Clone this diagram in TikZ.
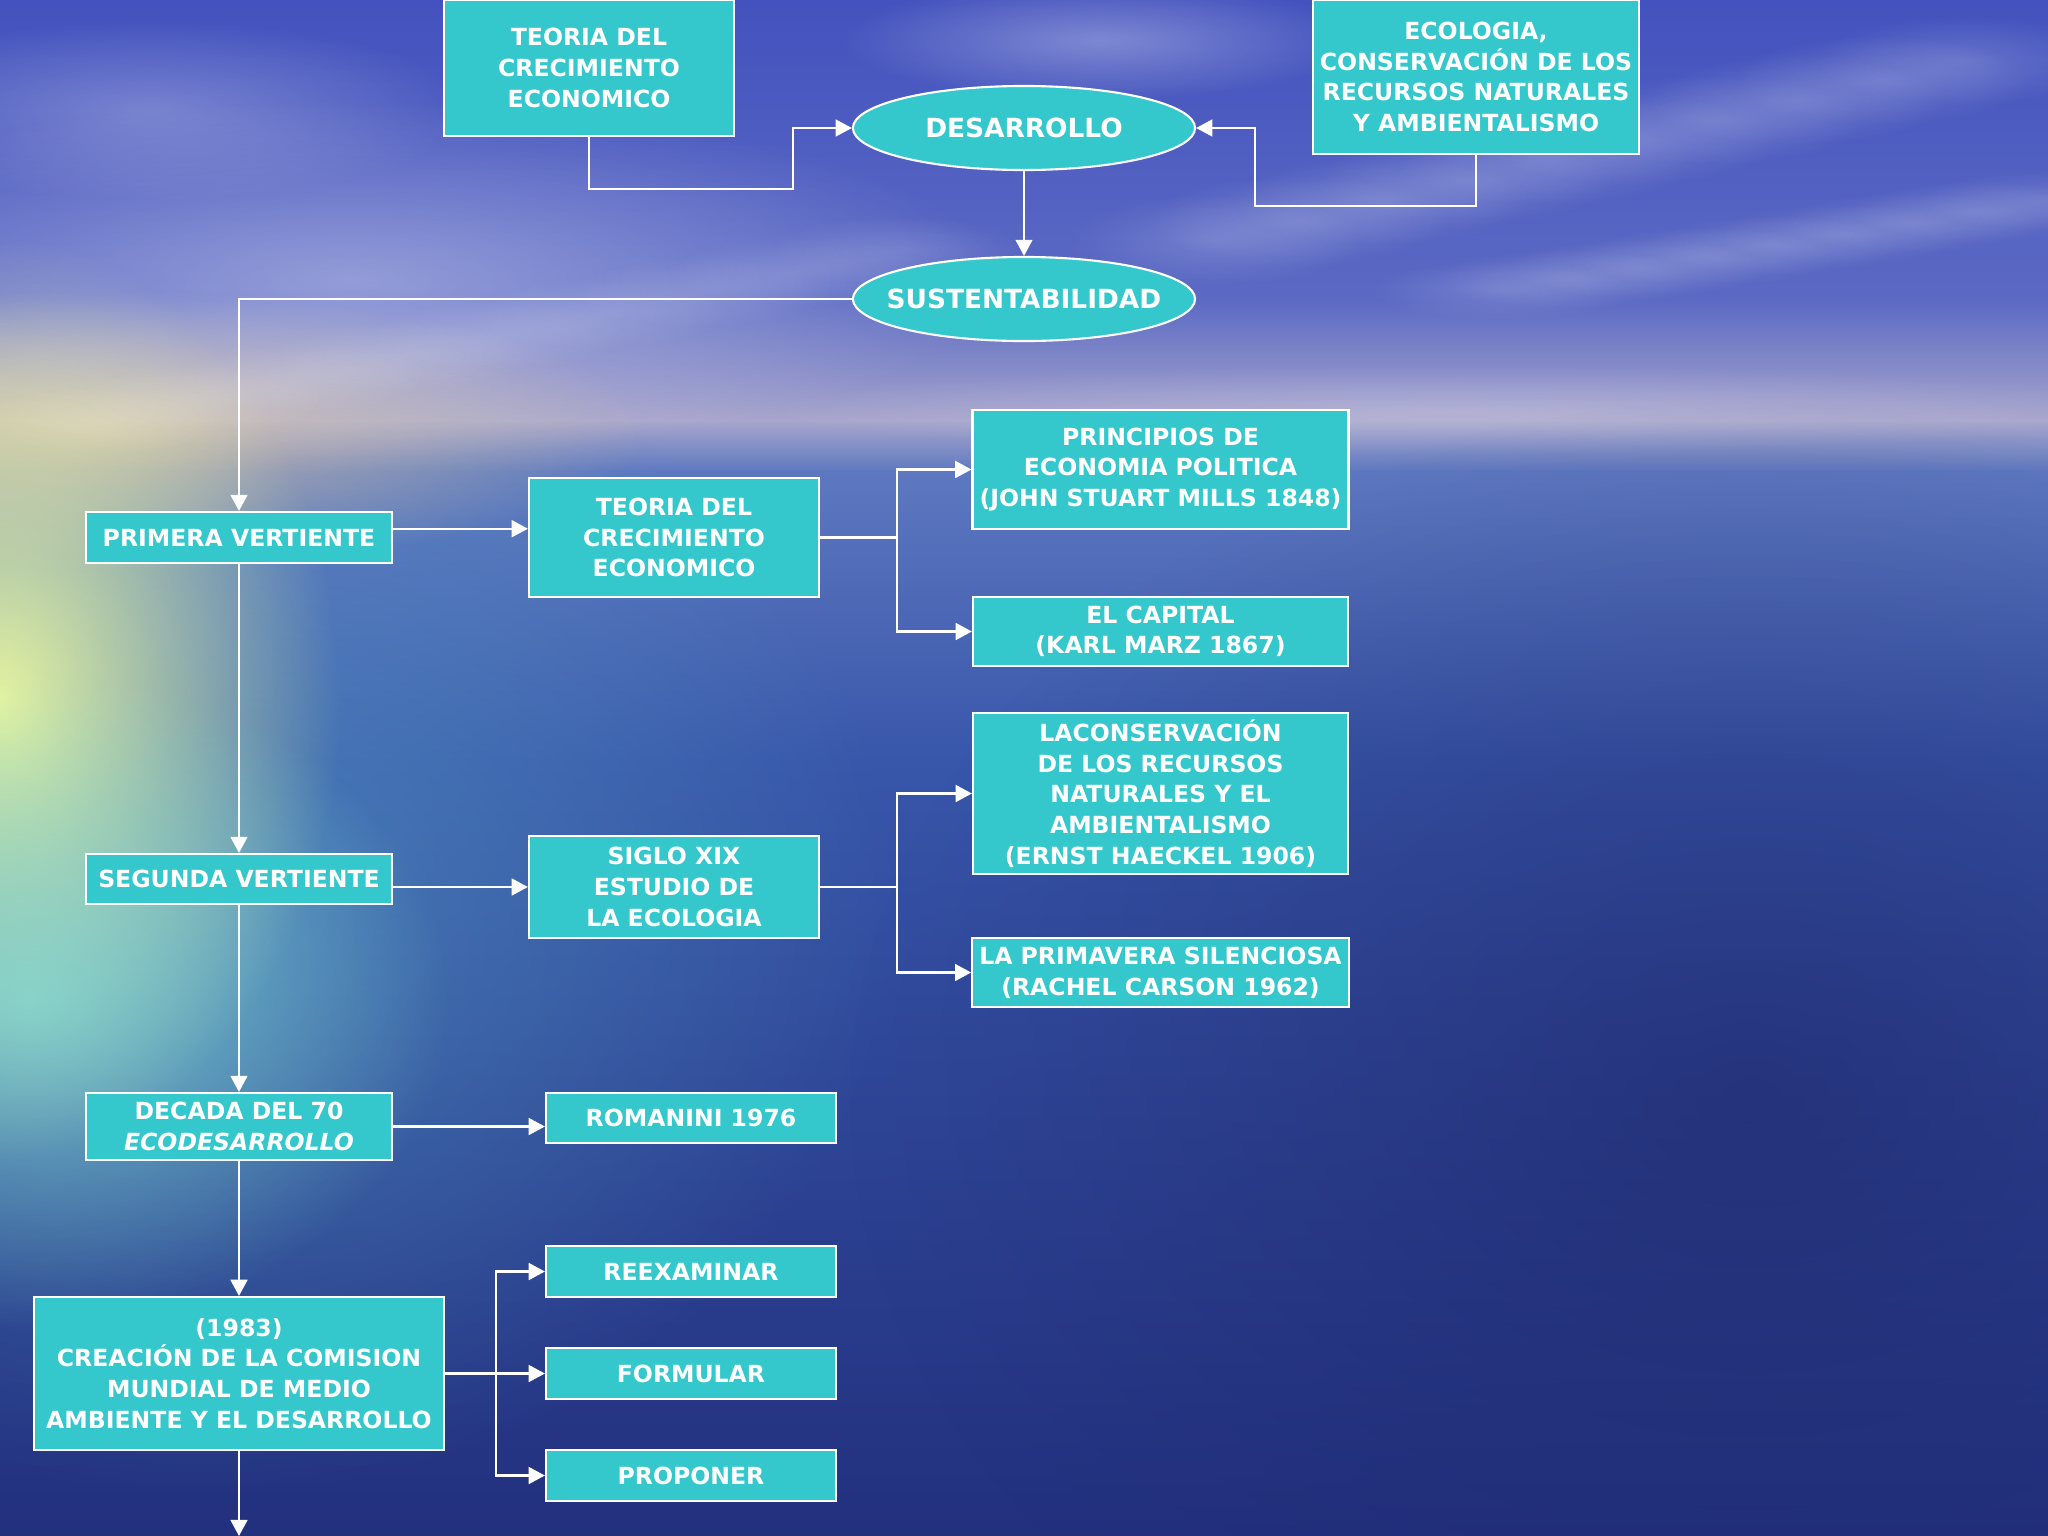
\documentclass[tikz,border=0pt]{standalone}
\usepackage{fontspec}
\setmainfont{DejaVu Sans}[ItalicFont={DejaVu Sans Oblique},BoldFont={DejaVu Sans Bold},BoldItalicFont={DejaVu Sans Bold Oblique}]
\usepackage{tikz}
\usepackage{xcolor}
\usetikzlibrary{arrows.meta,positioning,calc,shapes.geometric,fadings}
\definecolor{turq}{HTML}{34C8CC}
\definecolor{skytop}{HTML}{4352BE}
\definecolor{skylow}{HTML}{5C6AC4}
\definecolor{haze}{HTML}{A8A6CC}
\definecolor{seatop}{HTML}{5E78C0}
\definecolor{seamid}{HTML}{3856AA}
\definecolor{seadeep}{HTML}{22307E}
\definecolor{dusk}{HTML}{D8C0A8}
\definecolor{sunglow}{HTML}{E6F4A0}
\definecolor{foam}{HTML}{8FEBD8}
\definecolor{wash}{HTML}{5AA8C8}
\definecolor{night}{HTML}{1E2466}
\tikzfading[name=soft, inner color=transparent!0, outer color=transparent!100]
\tikzset{
  box/.style={draw=white, fill=turq, line width=0.6pt, align=center, text=white,
              inner sep=2pt, font=\fontsize{6.7}{8.7}\selectfont\bfseries},
  oval/.style={ellipse, draw=white, fill=turq, line width=0.6pt, text=white,
               inner xsep=-5pt, inner ysep=1pt, font=\fontsize{7.5}{9}\selectfont\bfseries},
  arrow/.style={-{Triangle[length=4.6pt,width=4.8pt]}, line width=0.6pt, draw=white},
  link/.style={line width=0.6pt, draw=white},
  cloud/.style={white, path fading=soft}
}

\begin{document}
\begin{tikzpicture}[x=0.01cm,y=-0.01cm]
    \useasboundingbox (0,0) rectangle (2048,1536);
    % Background: sky, horizon and sea
    \begin{scope}
      \clip (0,0) rectangle (2048,1536);
      \shade[top color=skytop, bottom color=skylow] (0,0) rectangle (2048,302);
      \shade[top color=skylow, bottom color=haze] (0,300) rectangle (2048,422);
      \shade[top color=haze, bottom color=seatop] (0,420) rectangle (2048,472);
      \shade[top color=seatop, bottom color=seamid] (0,470) rectangle (2048,762);
      \shade[top color=seamid, bottom color=seadeep] (0,760) rectangle (2048,1536);
      \fill[night, path fading=soft, opacity=.55] (1750,1100) ellipse (900 and 700);
      \fill[wash, path fading=soft, opacity=.5] (200,900) ellipse (700 and 600);
      \fill[dusk, path fading=soft, opacity=.8] (100,430) ellipse (550 and 140);
      \fill[sunglow, path fading=soft] (0,700) ellipse (340 and 460);
      \fill[foam, path fading=soft, opacity=.7] (30,1000) ellipse (420 and 330);
      % clouds
      \fill[cloud, opacity=.35] (350,280) ellipse (650 and 180);
      \fill[cloud, opacity=.25] (150,110) ellipse (320 and 90);
      \fill[cloud, opacity=.3] (1100,40) ellipse (260 and 60);
      \foreach \p in {0,0.1,...,1}
        \fill[cloud, opacity=.16] ($(1214,240)!\p!(2048,40)$) ellipse (150 and 45);
      \foreach \p in {0,0.125,...,1}
        \fill[cloud, opacity=.14] ($(1500,290)!\p!(2048,200)$) ellipse (130 and 30);
      \foreach \p in {0,0.125,...,1}
        \fill[cloud, opacity=.14] ($(100,420)!\p!(900,250)$) ellipse (130 and 35);
      \fill[cloud, opacity=.18] (1450,410) ellipse (700 and 45);
    \end{scope}

    % Top: the two sources of DESARROLLO
    \node[box, minimum width=2.90cm, minimum height=1.36cm] (teoriaA) at (589,68)
      {TEORIA DEL\\CRECIMIENTO\\ECONOMICO};
    \node[box, minimum width=3.24cm, minimum height=1.54cm] (ecologia) at (1476,77)
      {ECOLOGIA,\\CONSERVACIÓN DE LOS\\RECURSOS NATURALES\\Y AMBIENTALISMO};
    \node[oval, minimum width=3.42cm, minimum height=0.84cm] (desarrollo) at (1024,128) {DESARROLLO};
    \node[oval, minimum width=3.42cm, minimum height=0.84cm] (sustent) at (1024,299) {SUSTENTABILIDAD};
    \draw[arrow] (teoriaA.south) -- ++(0,52) -| ($(desarrollo.west)+(-59,0)$) -- (desarrollo.west);
    \draw[arrow] (ecologia.south) -- ++(0,51) -| ($(desarrollo.east)+(59,0)$) -- (desarrollo.east);
    \draw[arrow] (desarrollo.south) -- (sustent.north);

    % Left column
    \node[box, minimum width=3.06cm, minimum height=0.51cm] (primera) at (239,537.5) {PRIMERA VERTIENTE};
    \node[box, minimum width=3.06cm, minimum height=0.50cm] (segunda) at (239,879) {SEGUNDA VERTIENTE};
    \node[box, minimum width=3.06cm, minimum height=0.67cm] (decada) at (239,1126.5)
      {DECADA DEL 70\\\textit{ECODESARROLLO}};
    \node[box, minimum width=4.10cm, minimum height=1.53cm] (creacion) at (239,1373.5)
      {(1983)\\CREACIÓN DE LA COMISION\\MUNDIAL DE MEDIO\\AMBIENTE Y EL DESARROLLO};
    \coordinate (bottom) at (239,1536);
    \draw[arrow] (sustent.west) -| (primera.north);
    \draw[arrow] (primera.south) -- (segunda.north);
    \draw[arrow] (segunda.south) -- (decada.north);
    \draw[arrow] (decada.south) -- (creacion.north);
    \draw[arrow] (creacion.south) -- (bottom);

    % First branch
    \node[box, minimum width=2.90cm, minimum height=1.19cm] (teoriaB) at (674,537.5)
      {TEORIA DEL\\CRECIMIENTO\\ECONOMICO};
    \node[box, minimum width=3.75cm, minimum height=1.19cm] (principios) at (1160.5,469.5)
      {PRINCIPIOS DE\\ECONOMIA POLITICA\\(JOHN STUART MILLS 1848)};
    \node[box, minimum width=3.75cm, minimum height=0.69cm] (capital) at (1160.5,631.5)
      {EL CAPITAL\\(KARL MARZ 1867)};
    \draw[arrow] ([yshift=2.5pt]primera.east) -- ([yshift=2.5pt]teoriaB.west);
    \draw[link] (teoriaB.east) -- ++(77,0) coordinate (forkA);
    \draw[arrow] (forkA) |- (principios.west);
    \draw[arrow] (forkA) |- (capital.west);

    % Second branch
    \node[box, minimum width=2.90cm, minimum height=1.02cm] (siglo) at (674,887)
      {SIGLO XIX\\ESTUDIO DE\\LA ECOLOGIA};
    \node[box, minimum width=3.75cm, minimum height=1.53cm] (lacons) at (1160.5,793.5)
      {LACONSERVACIÓN\\DE LOS RECURSOS\\NATURALES Y EL\\AMBIENTALISMO\\(ERNST HAECKEL 1906)};
    \node[box, minimum width=3.75cm, minimum height=0.69cm] (primavera) at (1160.5,972.5)
      {LA PRIMAVERA SILENCIOSA\\(RACHEL CARSON 1962)};
    \draw[arrow] (siglo.west -| segunda.east) -- (siglo.west);
    \draw[link] (siglo.east) -- ++(77,0) coordinate (forkB);
    \draw[arrow] (forkB) |- (lacons.west);
    \draw[arrow] (forkB) |- (primavera.west);

    % Seventies and the commission
    \node[box, minimum width=2.90cm, minimum height=0.50cm] (romanini) at (691,1118) {ROMANINI 1976};
    \node[box, minimum width=2.90cm, minimum height=0.51cm] (reexaminar) at (691,1271.5) {REEXAMINAR};
    \node[box, minimum width=2.90cm, minimum height=0.51cm] (formular) at (691,1373.5) {FORMULAR};
    \node[box, minimum width=2.90cm, minimum height=0.51cm] (proponer) at (691,1475.5) {PROPONER};
    \draw[arrow] (decada.east) -- (decada.east -| romanini.west);
    \draw[link] (creacion.east) -- ++(51,0) coordinate (forkC);
    \draw[arrow] (forkC) |- (reexaminar.west);
    \draw[arrow] (creacion.east) -- (formular.west);
    \draw[arrow] (forkC) |- (proponer.west);
  \end{tikzpicture}
\end{document}
